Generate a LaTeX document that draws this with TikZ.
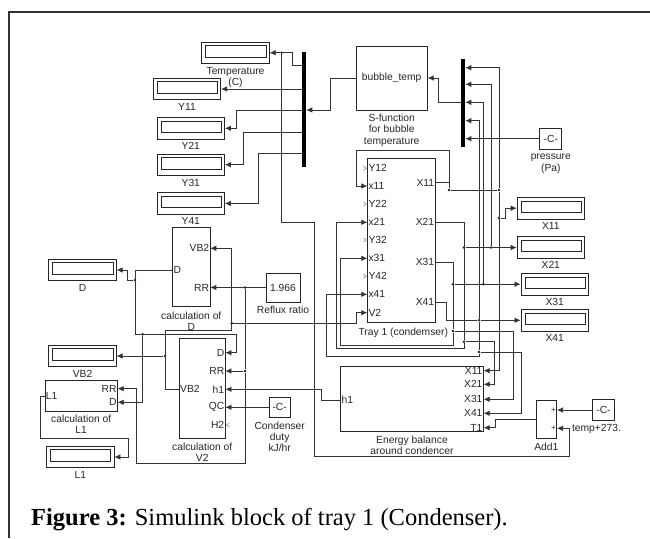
\documentclass[tikz,border=0pt]{standalone}
\usepackage{fontspec}
\setmainfont{Liberation Serif}
\newfontfamily\simfont{Liberation Sans}
\usepackage{tikz}
\usetikzlibrary{arrows.meta,positioning}

\begin{document}
\begin{tikzpicture}[
    x=1pt, y=-1pt,
    txt/.style={font=\simfont\fontsize{10.3}{11.3}\selectfont, text=black!85},
    blk/.style={rectangle, draw=black!85, line width=0.7pt, inner sep=0pt, txt},
    disp/.style={blk, minimum width=67.5pt, minimum height=21.5pt,
        path picture={\draw[black!85, line width=0.7pt]
            ([shift={(4pt,-3.4pt)}]path picture bounding box.north west) rectangle
            ([shift={(-3.4pt,6.6pt)}]path picture bounding box.south east);}},
    const/.style={blk, minimum width=22pt, minimum height=21pt},
    bus/.style={rectangle, fill=black, inner sep=0pt, minimum width=4.2pt},
    lbl/.style={txt, align=center, inner sep=0pt},
    port/.style={txt, inner sep=1pt},
    dot/.style={circle, fill=black!90, inner sep=0pt, minimum size=2.8pt},
    wire/.style={draw=black!80, line width=0.7pt},
    sig/.style={wire, -{Latex[length=6pt,width=5.5pt]}},
    nc/.style={draw=black!55, line width=0.45pt}
]
    \useasboundingbox (0,0) rectangle (650,538);
    \draw[black!80, line width=1.4pt] (9,538) -- (9,12) -- (650,12);

    % display blocks
    \node[disp] (dTemp) at (235.5,52.8) {};
    \node[lbl, below=3pt of dTemp] (lTemp) {Temperature\\(C)};
    \node[disp] (dY11) at (187,89) {};
    \node[lbl, below=3pt of dY11] (lY11) {Y11};
    \foreach \n/\y in {Y21/128.3, Y31/164.7, Y41/203.5} {
        \node[disp] (d\n) at (190.8,\y) {};
        \node[lbl, below=3pt of d\n] (l\n) {\n};
    }
    \foreach \n/\x/\y in {X11/550.8/208.2, X21/550.8/247.5, X31/554.7/284.2, X41/554.7/320.3} {
        \node[disp] (d\n) at (\x,\y) {};
        \node[lbl, below=3pt of d\n] (l\n) {\n};
    }
    \node[disp] (dD) at (82.5,270) {};
    \node[lbl, below=3pt of dD] (lD) {D};
    \node[disp] (dVB2) at (82.5,356) {};
    \node[lbl, below=3pt of dVB2] (lVB2) {VB2};
    \node[disp] (dL1) at (80.3,457) {};
    \node[lbl, below=3pt of dL1] (lL1) {L1};

    % buses
    \node[bus, minimum height=115.6pt] (busL) at (304,109.5) {};
    \node[bus, minimum height=88pt] (busR) at (463,103.3) {};
    \foreach \i/\y in {1/65, 2/89, 3/110, 4/132.3, 5/153.3}
        \coordinate (bl\i) at (busL.west |- 0,\y);
    \coordinate (blIn) at (busL.east |- 0,110);
    \foreach \i/\y in {1/67.7, 2/84.3, 3/102.3, 4/120.7, 5/138.7}
        \coordinate (br\i) at (busR.east |- 0,\y);
    \coordinate (brOut) at (busR.west |- 0,102.7);

    % s-function
    \node[blk, minimum width=71.3pt, minimum height=64.3pt] (bubble) at (391.7,78) {bubble\_temp};
    \node[lbl, below=3.5pt of bubble] (lBubble) {S-function\\for bubble\\temperature};

    % tray 1
    \node[blk, minimum width=67.3pt, minimum height=164.4pt] (tray) at (401.3,240.5) {};
    \node[lbl, below=5pt of tray, xshift=2pt] (lTray) {Tray 1 (condemser)};
    \foreach \p/\y in {Y12/168.3, x11/186, Y22/204, x21/222.3, Y32/240, x31/258.3, Y42/276.3, x41/294.3, V2/312.7}
        \node[port, anchor=west] (t\p) at (tray.west |- 0,\y) {\p};
    \foreach \p in {Y12, Y22, Y32, Y42}
        \draw[nc] ([xshift=-4pt,yshift=2pt]t\p.west) -- ([xshift=-1pt]t\p.west) -- ([xshift=-4pt,yshift=-2pt]t\p.west);
    \foreach \p/\y in {X11/182.7, X21/222.3, X31/262.3, X41/302.3}
        \node[port, anchor=east] (o\p) at (tray.east |- 0,\y) {\p};

    % energy balance
    \node[blk, minimum width=142.6pt, minimum height=65pt] (energy) at (412,399.2) {};
    \node[lbl, below=3.5pt of energy] (lEnergy) {Energy balance\\around condencer};
    \node[port, anchor=west] (eh1) at (energy.west |- 0,400) {h1};
    \foreach \p/\y in {X11/370.7, X21/384.3, X31/399.3, X41/413.3, T1/427.7}
        \node[port, anchor=east] (e\p) at (energy.east |- 0,\y) {\p};

    % calculation blocks
    \node[blk, minimum width=37.3pt, minimum height=79.4pt] (calcD) at (191.3,267) {};
    \node[lbl, below=4.5pt of calcD] (lCalcD) {calculation of\\D};
    \node[port, anchor=east] (cdVB2) at (calcD.east |- 0,248.3) {VB2};
    \node[port, anchor=east] (cdRR) at (calcD.east |- 0,287.5) {RR};
    \node[port, anchor=west] (cdD) at (calcD.west |- 0,270) {D};

    \node[blk, minimum width=45.7pt, minimum height=100pt] (calcV2) at (202.2,388.3) {};
    \node[lbl, below=4pt of calcV2] (lCalcV2) {calculation of\\V2};
    \foreach \p/\y in {D/352.7, RR/371, h1/389.3, QC/407.3, H2/425}
        \node[port, anchor=east] (cv\p) at (calcV2.east |- 0,\y) {\p};
    \node[port, anchor=west] (cvVB2) at (calcV2.west |- 0,389.3) {VB2};
    \draw[nc] ([xshift=4pt,yshift=2pt]cvH2.east) -- ([xshift=1pt]cvH2.east) -- ([xshift=4pt,yshift=-2pt]cvH2.east);

    \node[blk, minimum width=72.3pt, minimum height=30.3pt] (calcL1) at (81.2,395.8) {};
    \node[lbl, below=3.5pt of calcL1] (lCalcL1) {calculation of\\L1};
    \node[port, anchor=east] (clRR) at (calcL1.east |- 0,388.7) {RR};
    \node[port, anchor=east] (clD) at (calcL1.east |- 0,402.3) {D};
    \node[port, anchor=west] (clL1) at (calcL1.west |- 0,396) {L1};

    % constants and sum
    \node[const] (cPress) at (550.8,138.7) {-C-};
    \node[lbl, below=4.5pt of cPress] (lPress) {pressure\\(Pa)};
    \node[const, minimum width=34pt, minimum height=29pt] (cRR) at (283,287.5) {1.966};
    \node[lbl, below=3.5pt of cRR] (lRR) {Reflux ratio};
    \node[const, minimum width=21pt, minimum height=20.5pt] (cQC) at (279.7,407.3) {-C-};
    \node[lbl, below=3.5pt of cQC] (lQC) {Condenser\\duty\\kJ/hr};
    \node[const, minimum width=21.6pt, minimum height=21.4pt] (cTemp) at (603.5,410) {-C-};
    \node[lbl, below=3.5pt of cTemp, xshift=-7pt] (lCTemp) {temp+273.};
    \node[blk, minimum width=20.7pt, minimum height=38.3pt] (add1) at (546.3,419.2) {};
    \node[lbl, below=4pt of add1] (lAdd1) {Add1};
    \node[port, anchor=east, font=\simfont\fontsize{8}{9}\selectfont] (ap1) at (add1.east |- 0,410) {+};
    \node[port, anchor=east, font=\simfont\fontsize{8}{9}\selectfont] (ap2) at (add1.east |- 0,428.3) {+};

    % junctions
    \node[dot] (jT) at (281.7,52.8) {};
    \node[dot] (jX11a) at (449,190) {};
    \node[dot] (jX11b) at (499,190) {};
    \node[dot] (jX11c) at (499,218) {};
    \node[dot] (jX21a) at (464,247.5) {};
    \node[dot] (jX21b) at (491,247.5) {};
    \node[dot] (jX21c) at (464,341.7) {};
    \node[dot] (jX31a) at (453,284.2) {};
    \node[dot] (jX31b) at (483.3,284.2) {};
    \node[dot] (jX31c) at (453,331) {};
    \node[dot] (jX41a) at (479,320.3) {};
    \node[dot] (jX41b) at (479,352) {};
    \node[dot] (jD1) at (135,280) {};
    \node[dot] (jD2) at (142.7,334.3) {};
    \node[dot] (jVB2) at (165,356) {};
    \node[dot] (jV2) at (231.7,323.3) {};
    \node[dot] (jRR) at (245,287.5) {};
    \node[dot] (jRR2) at (245,371) {};

    % bubble temperature loop
    \draw[sig] (bubble.west) -| (330,110) -- (blIn);
    \draw[sig] (brOut) -| (438.3,78) -- (bubble.east);
    \draw[sig] (bl1) -- ++(-9.3,0) |- (dTemp.east);
    \draw[sig] (bl2) -- (dY11.east);
    \draw[sig] (bl3) -- ++(-65.3,0) |- (dY21.east);
    \draw[sig] (bl4) -- ++(-58.7,0) |- (dY31.east);
    \draw[sig] (bl5) -- ++(-43.7,0) |- (dY41.east);
    \draw[sig] (cPress.west) -- (br5);
    \draw[sig] (jT) -- (281.7,222.3) -| (314,456.7) -| (569.3,428.3) -- (ap2.east);

    % X11
    \draw[wire] (oX11.east) -| (jX11a) -- (jX11b);
    \draw[sig] (jX11a) -- (449,150) -| (356,186) -- (tx11.west);
    \draw[sig] (jX11b) |- (br1);
    \draw[sig] (jX11b) |- (eX11.east);
    \draw[sig] (jX11c) -- ++(6,0) |- (dX11.west);
    % X21
    \draw[wire] (oX21.east) -| (jX21c);
    \draw[sig] (jX21c) -- (464,348.3) -| (336.7,222.3) -- (tx21.west);
    \draw[sig] (jX21a) -- (dX21.west);
    \draw[sig] (jX21b) |- (br2);
    \draw[sig] (jX21c) -| (494.3,384.3) -- (eX21.east);
    % X31
    \draw[wire] (oX31.east) -| (jX31c);
    \draw[sig] (jX31c) -- (453,345) -| (340.7,258.3) -- (tx31.west);
    \draw[sig] (jX31a) -- (dX31.west);
    \draw[sig] (jX31b) |- (br3);
    \draw[sig] (jX31c) -| (513.3,399.3) -- (eX31.east);
    % X41
    \draw[wire] (oX41.east) -| (446,320.3) -- (jX41a);
    \draw[sig] (jX41a) -- (dX41.west);
    \draw[sig] (jX41a) |- (br4);
    \draw[wire] (jX41a) -- (jX41b);
    \draw[sig] (jX41b) -- (479,356) -| (326,294.3) -- (tx41.west);
    \draw[sig] (jX41b) -| (521.3,413.3) -- (eX41.east);

    % energy balance and sum
    \draw[sig] (cTemp.west) -- (ap1.east);
    \draw[sig] (add1.west) -| (495,427.7) -- (eT1.east);
    \draw[sig] (eh1.west) -| (321.7,389.3) -- (cvh1.east);
    \draw[sig] (cQC.west) -- (cvQC.east);

    % reflux, distillate, boil-up, L1
    \draw[sig] (cRR.west) -- (cdRR.east);
    \draw[wire] (jRR) -- (jRR2);
    \draw[sig] (jRR2) -- (cvRR.east);
    \draw[sig] (jRR2) -- (245,463.3) -| (136,388.7) -- (clRR.east);
    \draw[sig] (cdD.west) -| (135,334.3) -| (236.7,352.7) -- (cvD.east);
    \draw[sig] (jD1) -- (127.7,280) |- (dD.east);
    \draw[sig] (jD2) |- (clD.east);
    \draw[sig] (cvVB2.west) -| (165,330) -| (231.7,248.3) -- (cdVB2.east);
    \draw[sig] (jVB2) -- (dVB2.east);
    \draw[sig] (jV2) -| (356,312.7) -- (tV2.west);
    \draw[sig] (clL1.west) -| (40.7,438.3) -| (128.3,457) -- (dL1.east);

    \node[anchor=west, inner sep=0pt, font=\fontsize{24.5}{27}\selectfont] (caption) at (31,520)
        {\textbf{Figure 3:} Simulink block of tray 1 (Condenser).};
\end{tikzpicture}
\end{document}
